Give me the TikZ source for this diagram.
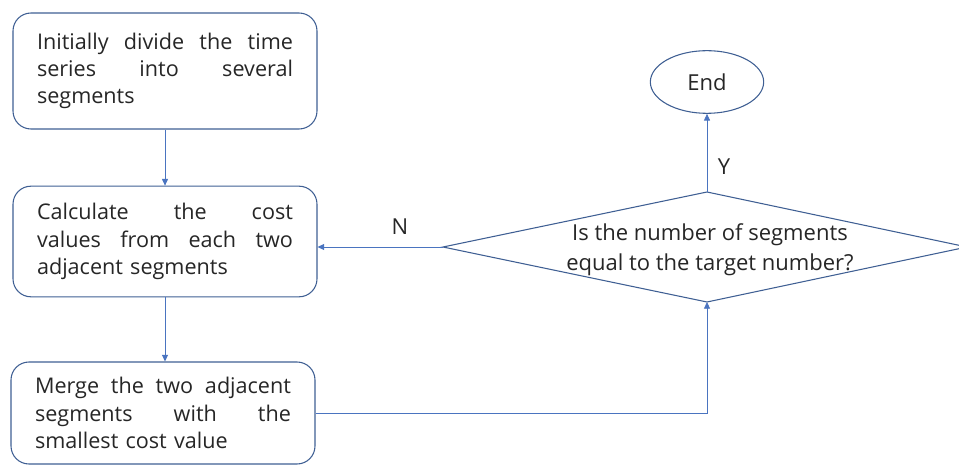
\documentclass[tikz,border=0pt]{standalone}
\usepackage{fontspec}
\setmainfont{Open Sans}
\usetikzlibrary{arrows.meta,shapes.geometric}
\definecolor{bord}{HTML}{3F5F93}
\definecolor{arr}{HTML}{4A74C0}
\definecolor{txt}{HTML}{262626}
\newcommand{\jline}[1]{\leavevmode\hbox to 192pt{#1}}
\tikzset{
  procbox/.style={draw=bord, line width=0.8pt, rounded corners=13.5pt, minimum width=228pt,
    text width=192pt, align=left, inner sep=0pt, text=txt,
    font=\fontsize{16.2pt}{20.5pt}\selectfont},
  endnode/.style={ellipse, draw=bord, line width=0.8pt, minimum width=85pt, minimum height=47pt,
    inner sep=0pt, text=txt, font=\fontsize{16.5pt}{20.5pt}\selectfont},
  qtext/.style={align=center, text=txt, inner sep=0pt, font=\fontsize{16.5pt}{22.5pt}\selectfont},
  lbl/.style={text=txt, inner sep=0pt, font=\fontsize{16.5pt}{18pt}\selectfont},
  conn/.style={draw=arr, line width=0.6pt, -{Triangle[length=5pt,width=4.5pt]}},
}
\begin{document}
\begin{tikzpicture}[x=0.75pt,y=-0.75pt]
\useasboundingbox (0,0) rectangle (959,466);
\node[procbox, minimum height=87pt] (b1) at (165,71) {\jline{Initially\hfill divide\hfill the\hfill time}\\\jline{series\hfill into\hfill several}\\segments};
\node[procbox, minimum height=83pt] (b2) at (165,241.5) {\jline{Calculate\hfill the\hfill cost}\\\jline{values\hfill from\hfill each\hfill two}\\adjacent segments};
\node[procbox, minimum height=76.5pt] (b3) at (163,413) {\jline{Merge\hfill the\hfill two\hfill adjacent}\\\jline{segments\hfill with\hfill the}\\smallest cost value};
\node[endnode] (end) at (707,82) {End};
\coordinate (dt) at (707,192);
\coordinate (db) at (707,302);
\coordinate (dl) at (443,247);
\coordinate (dr) at (967,247);
\draw[draw=bord, line width=0.8pt] (dl) -- (dt) -- (dr) -- (db) -- cycle;
\node[qtext] (q) at (710,250) {Is the number of segments\\equal to the target number?};
\draw[conn] (b1.south) -- (b2.north);
\draw[conn] (b2.south) -- (b3.north -| b2.south);
\draw[conn] (b3.east) -| (db);
\draw[conn] (dl) -- (dl -| b2.east);
\draw[conn] (dt) -- (end.south);
\node[lbl] (n) at (400,227) {N};
\node[lbl] (y) at (724,167) {Y};
\end{tikzpicture}
\end{document}
